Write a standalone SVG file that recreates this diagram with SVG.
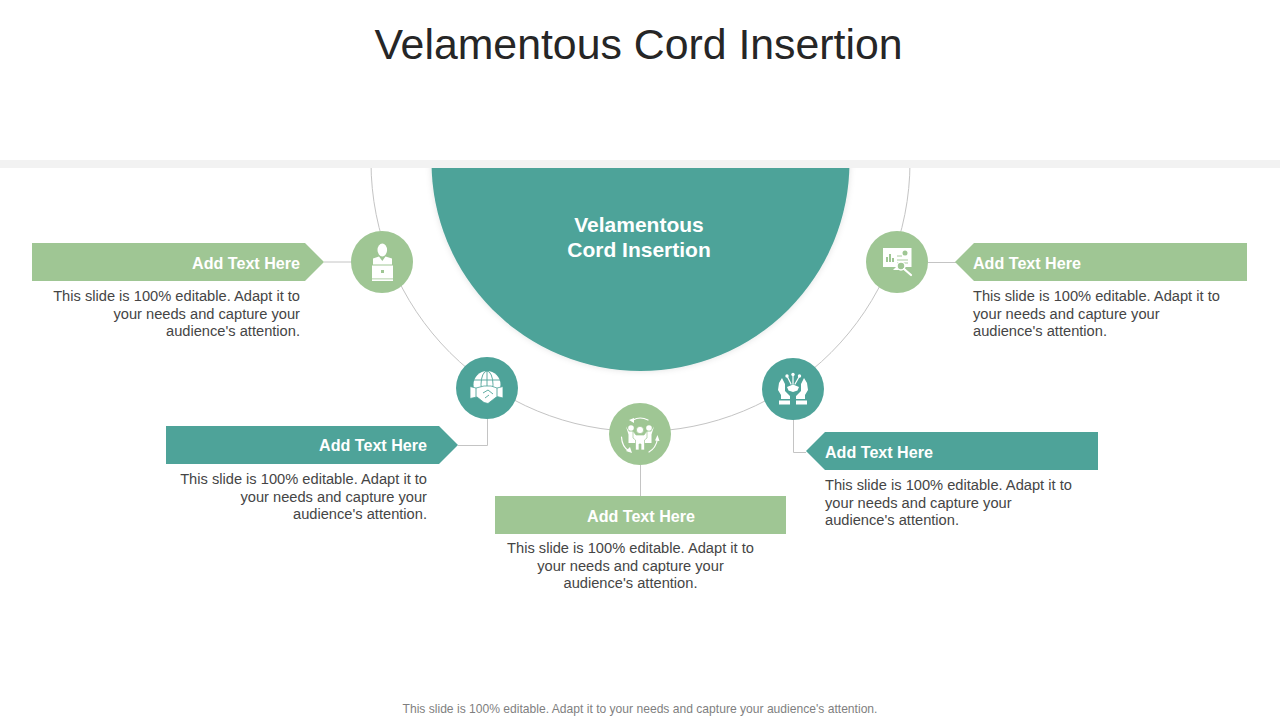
<svg xmlns="http://www.w3.org/2000/svg" width="1280" height="720" viewBox="0 0 1280 720">
<defs>
<clipPath id="below"><rect x="0" y="168" width="1280" height="552"/></clipPath>
<filter id="soft" x="-10%" y="-10%" width="120%" height="120%"><feDropShadow dx="0" dy="0" stdDeviation="3" flood-color="#000" flood-opacity="0.12"/></filter>
</defs>
<style>
text{font-family:"Liberation Sans",Arial,sans-serif}
.g{fill:#9fc694}.t{fill:#4ea399}
.ln{fill:none;stroke:#c4c4c4;stroke-width:1}
.h{font-size:16.100px;font-weight:700;fill:#fff}
.b{font-size:14.670px;fill:#454545}
.e{text-anchor:end}.m{text-anchor:middle}
.i{fill:#fff}.is{fill:none;stroke:#fff;stroke-width:1.200;stroke-linecap:round}
</style>
<rect width="1280" height="720" fill="#fff"/>
<text id="title" x="638.500" y="59" class="m" font-size="42.800" fill="#262626">Velamentous Cord Insertion</text>
<rect id="band" x="0" y="160" width="1280" height="8" fill="#f2f2f2"/>
<g id="connectors">
<circle class="ln" cx="640.500" cy="162" r="269.500" clip-path="url(#below)"/>
<path class="ln" d="M324 262H352"/>
<path class="ln" d="M458 445.500H487.500V418"/>
<path class="ln" d="M640.500 465V496"/>
<path class="ln" d="M793.500 419V452.500H806"/>
<path class="ln" d="M928 262.500H956"/>
</g>
<g id="hub">
<g clip-path="url(#below)"><circle class="t" cx="640.500" cy="162" r="209" filter="url(#soft)"/></g>
<text x="639" y="232" class="m" font-size="21" font-weight="700" fill="#fff">Velamentous</text>
<text x="639" y="257" class="m" font-size="21" font-weight="700" fill="#fff">Cord Insertion</text>
</g>
<g id="node-1">
<path class="g" d="M32 243H305L324 262L305 281H32Z"/>
<text x="300" y="268.500" class="h e">Add Text Here</text>
<text class="b e"><tspan x="300" y="301">This slide is 100% editable. Adapt it to</tspan><tspan x="300" y="318.500">your needs and capture your</tspan><tspan x="300" y="336">audience's attention.</tspan></text>
<circle class="g" cx="382" cy="262" r="31"/>
<ellipse class="i" cx="382.300" cy="250" rx="4.800" ry="6.500"/>
<path class="i" d="M373 258.500L379 256.500L382.300 261L385.500 256.500L392 258.500V264.500H373Z"/>
<path class="i" d="M372 265.500H393V281H372Z"/>
<rect x="381" y="270" width="3" height="3" fill="#9fc694"/>
<rect x="372" y="278.500" width="21" height="0.800" fill="#9fc694"/>
</g>
<g id="node-2">
<path class="t" d="M166 426H439L458 445L439 464H166Z"/>
<text x="427" y="450.500" class="h e">Add Text Here</text>
<text class="b e"><tspan x="427" y="484">This slide is 100% editable. Adapt it to</tspan><tspan x="427" y="501.500">your needs and capture your</tspan><tspan x="427" y="519">audience's attention.</tspan></text>
<circle class="t" cx="487" cy="388" r="31"/>
<circle class="i" cx="487" cy="384.500" r="13.500"/>
<g fill="none" stroke="#4ea399" stroke-width="0.900"><ellipse cx="487" cy="384.500" rx="6" ry="13.500"/><path d="M487 371V398M474 380H500M474 389H500"/></g>
<path class="i" d="M470 386.500L476 388L484 386L491 386L497 388L503 386.500V398L497 396.500L488 403.500L484 402.500L477 397L470 398.500Z" stroke="#4ea399" stroke-width="0.800"/>
<path d="M483 393L488 390L493 394M485 398L489 395M476 388V397M497 388V396" fill="none" stroke="#4ea399" stroke-width="0.900"/>
</g>
<g id="node-3">
<rect class="g" x="495" y="496" width="291" height="38"/>
<text x="641" y="521.500" class="h m">Add Text Here</text>
<text class="b m"><tspan x="630.500" y="553">This slide is 100% editable. Adapt it to</tspan><tspan x="630.500" y="570.500">your needs and capture your</tspan><tspan x="630.500" y="588">audience's attention.</tspan></text>
<circle class="g" cx="640" cy="434" r="31"/>
<circle class="i" cx="631" cy="428" r="2.800"/><circle class="i" cx="649" cy="428" r="2.800"/>
<path class="i" d="M626 426.500L629 431.500H633L636 436V443H628.500V434.500ZM654 426.500L651 431.500H647L644 436V443H651.500V434.500Z"/>
<circle class="i" cx="640" cy="430" r="3.600" stroke="#9fc694" stroke-width="0.700"/>
<path class="i" d="M633 431L636 435H644L647 431L647 438L644.500 440V450H641V444H639V450H635.500V440L633 438Z" stroke="#9fc694" stroke-width="0.700"/>
<path class="is" d="M633 420Q640 416 648 420M621.500 437Q622 447 629 451M649 452Q656 448 657.500 439"/>
<path class="i" d="M629 420L634 418V423ZM657.500 435L659.500 441L655 440.500ZM632 453L626 451L630 447Z"/>
</g>
<g id="node-4">
<path class="t" d="M806 451L825 432H1098V470H825Z"/>
<text x="825" y="457.500" class="h">Add Text Here</text>
<text class="b"><tspan x="825" y="490">This slide is 100% editable. Adapt it to</tspan><tspan x="825" y="507.500">your needs and capture your</tspan><tspan x="825" y="525">audience's attention.</tspan></text>
<circle class="t" cx="793" cy="389" r="31"/>
<path class="i" d="M782 378L785 384V391L790 396V399H781V395L778 390L779 383Z"/>
<rect class="i" x="779" y="400.500" width="11" height="4"/>
<path class="i" d="M804 378L801 384V391L796 396V399H805V395L808 390L807 383Z"/>
<rect class="i" x="796" y="400.500" width="11" height="4"/>
<path class="i" d="M787 387L793 384.500L799 387L797.500 390.500L793 392L788.500 390.500Z"/>
<circle class="i" cx="793" cy="374.500" r="1.700"/><circle class="i" cx="787" cy="376" r="1.700"/><circle class="i" cx="799.500" cy="376" r="1.700"/>
<path class="is" d="M793 376V384M787.500 377L791 384M799 377L795 384"/>
</g>
<g id="node-5">
<path class="g" d="M955 262L974 243H1247V281H974Z"/>
<text x="973" y="268.500" class="h">Add Text Here</text>
<text class="b"><tspan x="973" y="301">This slide is 100% editable. Adapt it to</tspan><tspan x="973" y="318.500">your needs and capture your</tspan><tspan x="973" y="336">audience's attention.</tspan></text>
<circle class="g" cx="897" cy="262" r="31"/>
<rect class="i" x="883" y="248" width="28.500" height="19"/>
<path d="M887 262V257M890 262V254M893 262V258" stroke="#9fc694" stroke-width="2" fill="none"/>
<circle cx="905" cy="253" r="2.500" fill="#9fc694"/>
<path d="M897 256H902M897 260H908M897 263H908" stroke="#9fc694" stroke-width="0.900" fill="none"/>
<path class="i" d="M893 270L897 266H903L906 270Z"/>
<circle cx="901" cy="266" r="4" fill="#9fc694" stroke="#fff" stroke-width="1.500"/>
<path d="M904 269L911 275" stroke="#fff" stroke-width="2.200" stroke-linecap="round"/>
</g>
<text id="footer" x="640" y="713" class="m" font-size="12.100" fill="#7f7f7f">This slide is 100% editable. Adapt it to your needs and capture your audience's attention.</text>
</svg>
